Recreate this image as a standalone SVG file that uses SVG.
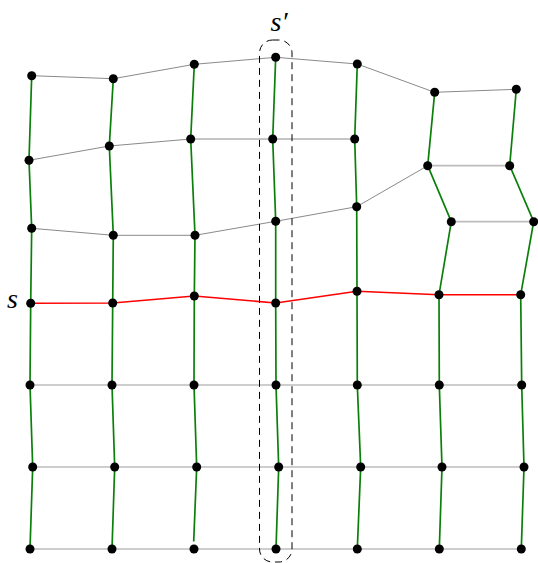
<svg xmlns="http://www.w3.org/2000/svg" width="538" height="563" viewBox="0 0 538 563">
<style>
.dk{fill:none;stroke:#8a8a8a;stroke-width:1}
.lt{fill:none;stroke:#bdbdbd;stroke-width:1.7}
.gr{fill:none;stroke:#0a800a;stroke-width:1.7}
.rd{fill:none;stroke:#ff0000;stroke-width:1.6}
.nd{fill:#000}
.lbl{font-family:'Liberation Serif','DejaVu Serif',serif;font-style:italic;font-size:28px;fill:#000}
</style>
<rect width="538" height="563" fill="#fff"/>
<g id="connectors">
<polyline class="dk" points="31.7,75.7 113.3,78.7 194.3,64.3 275.7,57.3 357.3,64 434.7,92.3 516.3,89.3"/>
<polyline class="dk" points="29,160.3 109.3,146 190.7,139 272.7,139 354.7,139"/>
<polyline class="lt" points="427.7,165.7 509.7,165.7"/>
<polyline class="dk" points="31.7,228.3 113.3,235.3 195,235.3 275.7,221.3 356.7,206.7 427.7,165.7"/>
<polyline class="lt" points="451.3,221.7 533.7,221.7"/>
<polyline class="lt" points="30,385 112,385 194,385 276,385 357.3,385 439.3,385 521.7,385"/>
<polyline class="lt" points="32.7,467 114.7,467 196.7,467 278.7,467 360.7,467 442,467 524,467"/>
<polyline class="lt" points="30,549 112,549 194,549 276,549 357.3,549 439.3,549 521.3,549"/>
<polyline class="gr" points="31.7,75.7 29,160.3 31.7,228.3 30.7,303.3 30,385 32.7,467 30,549"/>
<polyline class="gr" points="113.3,78.7 109.3,146 113.3,235.3 112.7,303 112,385 114.7,467 112,549"/>
<polyline class="gr" points="194.3,64.3 190.7,139 195,235.3 194.3,296 194,385 196.7,467 193.7,541.5"/>
<polyline class="gr" points="275.7,57.3 272.7,139 275.7,221.3 275.7,303 276,385 278.7,467 276,549"/>
<polyline class="gr" points="357.3,64 354.7,139 356.7,206.7 357,291.3 357.3,385 360.7,467 357.3,549"/>
<polyline class="gr" points="434.7,92.3 427.7,165.7 451.3,221.7 439,294.7 439.3,385 442,467 439.3,549"/>
<polyline class="gr" points="516.3,89.3 509.7,165.7 533.7,221.7 520.7,294.7 521.7,385 524,467 521.3,549"/>
<polyline class="rd" points="30.7,303.3 112.7,303 194.3,296 275.7,303 357,291.3 439,294.7 520.7,294.7"/>
<rect x="259.5" y="40" width="32.5" height="522" rx="13" ry="13" fill="none" stroke="#000" stroke-width="1" stroke-dasharray="7,5"/>
</g>
<g id="n00"><circle class="nd" cx="31.7" cy="75.7" r="4.5"/></g>
<g id="n01"><circle class="nd" cx="113.3" cy="78.7" r="4.5"/></g>
<g id="n02"><circle class="nd" cx="194.3" cy="64.3" r="4.5"/></g>
<g id="n03"><circle class="nd" cx="275.7" cy="57.3" r="4.5"/></g>
<g id="n04"><circle class="nd" cx="357.3" cy="64" r="4.5"/></g>
<g id="n05"><circle class="nd" cx="434.7" cy="92.3" r="4.5"/></g>
<g id="n06"><circle class="nd" cx="516.3" cy="89.3" r="4.5"/></g>
<g id="n10"><circle class="nd" cx="29" cy="160.3" r="4.5"/></g>
<g id="n11"><circle class="nd" cx="109.3" cy="146" r="4.5"/></g>
<g id="n12"><circle class="nd" cx="190.7" cy="139" r="4.5"/></g>
<g id="n13"><circle class="nd" cx="272.7" cy="139" r="4.5"/></g>
<g id="n14"><circle class="nd" cx="354.7" cy="139" r="4.5"/></g>
<g id="n15"><circle class="nd" cx="427.7" cy="165.7" r="4.5"/></g>
<g id="n16"><circle class="nd" cx="509.7" cy="165.7" r="4.5"/></g>
<g id="n20"><circle class="nd" cx="31.7" cy="228.3" r="4.5"/></g>
<g id="n21"><circle class="nd" cx="113.3" cy="235.3" r="4.5"/></g>
<g id="n22"><circle class="nd" cx="195" cy="235.3" r="4.5"/></g>
<g id="n23"><circle class="nd" cx="275.7" cy="221.3" r="4.5"/></g>
<g id="n24"><circle class="nd" cx="356.7" cy="206.7" r="4.5"/></g>
<g id="n25"><circle class="nd" cx="451.3" cy="221.7" r="4.5"/></g>
<g id="n26"><circle class="nd" cx="533.7" cy="221.7" r="4.5"/></g>
<g id="n30"><circle class="nd" cx="30.7" cy="303.3" r="4.5"/></g>
<g id="n31"><circle class="nd" cx="112.7" cy="303" r="4.5"/></g>
<g id="n32"><circle class="nd" cx="194.3" cy="296" r="4.5"/></g>
<g id="n33"><circle class="nd" cx="275.7" cy="303" r="4.5"/></g>
<g id="n34"><circle class="nd" cx="357" cy="291.3" r="4.5"/></g>
<g id="n35"><circle class="nd" cx="439" cy="294.7" r="4.5"/></g>
<g id="n36"><circle class="nd" cx="520.7" cy="294.7" r="4.5"/></g>
<g id="n40"><circle class="nd" cx="30" cy="385" r="4.5"/></g>
<g id="n41"><circle class="nd" cx="112" cy="385" r="4.5"/></g>
<g id="n42"><circle class="nd" cx="194" cy="385" r="4.5"/></g>
<g id="n43"><circle class="nd" cx="276" cy="385" r="4.5"/></g>
<g id="n44"><circle class="nd" cx="357.3" cy="385" r="4.5"/></g>
<g id="n45"><circle class="nd" cx="439.3" cy="385" r="4.5"/></g>
<g id="n46"><circle class="nd" cx="521.7" cy="385" r="4.5"/></g>
<g id="n50"><circle class="nd" cx="32.7" cy="467" r="4.5"/></g>
<g id="n51"><circle class="nd" cx="114.7" cy="467" r="4.5"/></g>
<g id="n52"><circle class="nd" cx="196.7" cy="467" r="4.5"/></g>
<g id="n53"><circle class="nd" cx="278.7" cy="467" r="4.5"/></g>
<g id="n54"><circle class="nd" cx="360.7" cy="467" r="4.5"/></g>
<g id="n55"><circle class="nd" cx="442" cy="467" r="4.5"/></g>
<g id="n56"><circle class="nd" cx="524" cy="467" r="4.5"/></g>
<g id="n60"><circle class="nd" cx="30" cy="549" r="4.5"/></g>
<g id="n61"><circle class="nd" cx="112" cy="549" r="4.5"/></g>
<g id="n62"><circle class="nd" cx="194" cy="549" r="4.5"/></g>
<g id="n63"><circle class="nd" cx="276" cy="549" r="4.5"/></g>
<g id="n64"><circle class="nd" cx="357.3" cy="549" r="4.5"/></g>
<g id="n65"><circle class="nd" cx="439.3" cy="549" r="4.5"/></g>
<g id="n66"><circle class="nd" cx="521.3" cy="549" r="4.5"/></g>
<g id="labels">
<text class="lbl" x="7" y="308">s</text>
<text class="lbl" x="270.5" y="30.5">s′</text>
</g>
</svg>
